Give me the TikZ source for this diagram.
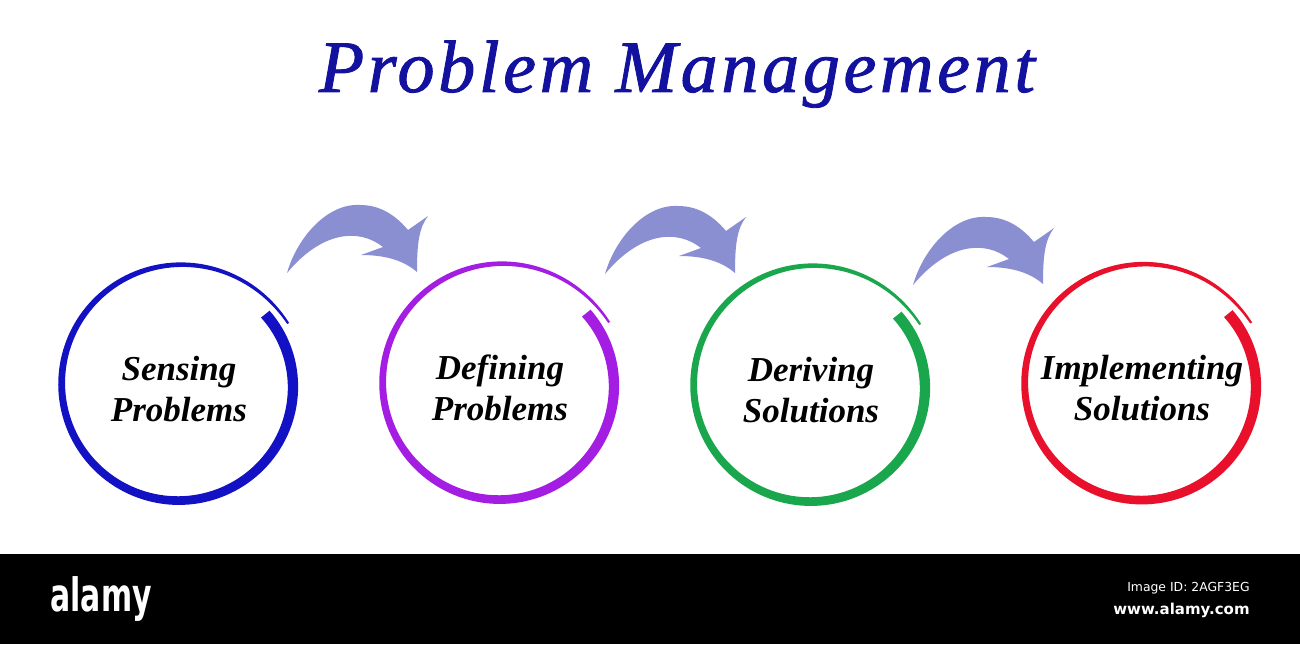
\documentclass[tikz,border=0pt]{standalone}
\usepackage{fontspec}
\setmainfont{Liberation Serif}
\newfontfamily\titlefont[LetterSpace=5,FakeBold=1.2]{Liberation Serif}
\newfontfamily\bandfont{DejaVu Sans}
\newfontfamily\logofont[FakeStretch=0.65]{DejaVu Sans}
\usetikzlibrary{calc}
\definecolor{title}{HTML}{12129E}
\definecolor{swoopfill}{HTML}{8A8FD2}
\definecolor{cblue}{HTML}{1212C4}
\definecolor{cpurple}{HTML}{A41DE3}
\definecolor{cgreen}{HTML}{1AA64C}
\definecolor{cred}{HTML}{E8102A}
\tikzset{
  declare function={
    ringr(\t)=117+8*exp(-(\t-28)/50)-6*((\t-28)/371)^6;
    ringw(\t)=2+9*((\t-28)/371)^0.7;
  },
  swoop/.style={fill=swoopfill},
  stage/.style={
    font=\bfseries\itshape\fontsize{17.5}{20.5}\selectfont,
    text=black,
    align=center,
    inner sep=0pt,
    yshift=-2.5pt
  },
  heading/.style={
    font=\titlefont\itshape\fontsize{37}{40}\selectfont,
    text=title,
    anchor=base,
    inner sep=0pt
  },
  bandtext/.style={text=white, inner sep=0pt}
}

\begin{document}
\begin{tikzpicture}[x=0.5pt, y=0.5pt]
  \useasboundingbox (0,0) rectangle (1300,644);
  \fill[white] (0,0) rectangle (1300,644);

  \node[heading] (title) at (677,552) {Problem Management};

  \coordinate (sense) at (179,260);
  \coordinate (define) at (500,261);
  \coordinate (derive) at (811,259);
  \coordinate (implement) at (1142,260.5);

  \foreach \c/\col in {sense/cblue, define/cpurple, derive/cgreen, implement/cred}
    \fill[\col, shift={(\c)}]
      plot[domain=29:399, samples=150] (\x:{ringr(\x)+ringw(\x)/2})
      -- plot[domain=399:29, samples=150] (\x:{ringr(\x)-ringw(\x)/2}) -- cycle;

  \node[stage] (senselbl) at (sense) {Sensing\\Problems};
  \node[stage] (definelbl) at (define) {Defining\\Problems};
  \node[stage] (derivelbl) at (derive) {Deriving\\Solutions};
  \node[stage] (implementlbl) at (implement) {Implementing\\Solutions};

  \coordinate (swoop1) at (287,371);
  \coordinate (swoop2) at (605,370);
  \coordinate (swoop3) at (913,359);
  \foreach \a in {swoop1, swoop2, swoop3}
    \fill[swoop, shift={(\a)}] (0,0) .. controls (10,35) and (40,70) .. (73,68)
      .. controls (95,68) and (110,56) .. (121,43) -- (141,57)
      .. controls (132,45) and (130,30) .. (130,1)
      .. controls (115,14) and (95,18) .. (74,18) -- (96,26)
      .. controls (72,45) and (35,42) .. (0,0) -- cycle;

  \fill[black] (0,0) rectangle (1300,90);
  \node[bandtext, anchor=base west, font=\logofont\bfseries\fontsize{23}{25}\selectfont] (logo) at (50,33) {alamy};
  \node[bandtext, anchor=base east, font=\bandfont\fontsize{6.2}{7}\selectfont] (imageid) at (1250,53) {Image ID: 2AGF3EG};
  \node[bandtext, anchor=base east, font=\bandfont\bfseries\fontsize{7.5}{9}\selectfont] (site) at (1250,30) {www.alamy.com};
\end{tikzpicture}
\end{document}
